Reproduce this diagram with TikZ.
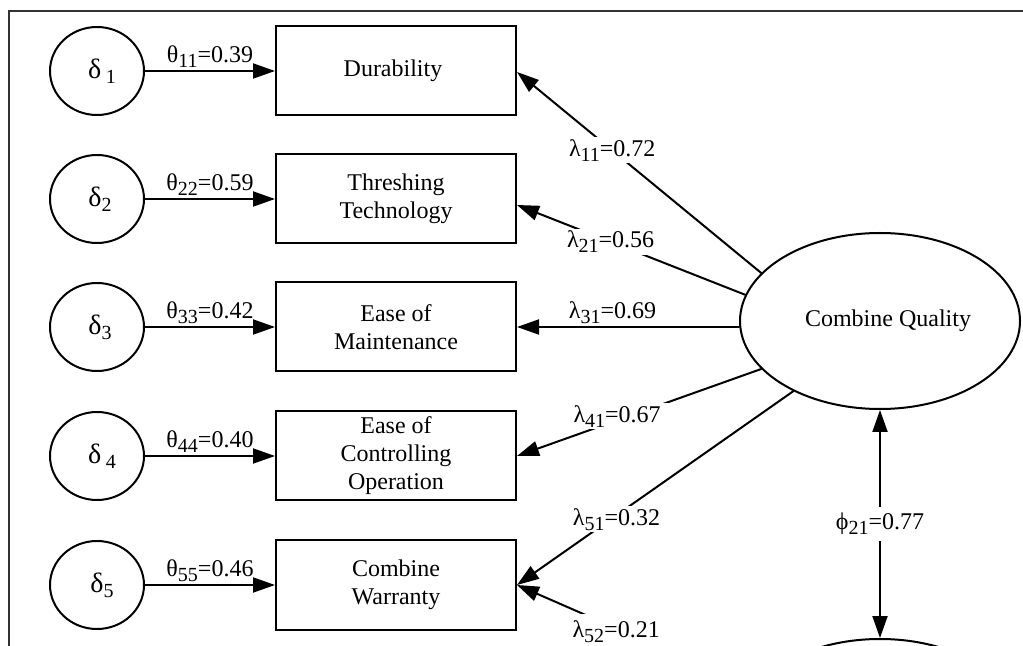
\documentclass[tikz,border=0pt]{standalone}
\usepackage{fontspec}
\setmainfont{Liberation Serif}
\usetikzlibrary{shapes.geometric,arrows.meta}
\newcommand{\lowsub}[1]{\raisebox{-2.5pt}{\fontsize{10}{10}\selectfont #1}}

\begin{document}
\begin{tikzpicture}[x=0.5pt, y=-0.5pt, font=\fontsize{12}{14}\selectfont]
  \tikzstyle{myline}=[line width=1pt, line cap=round];
  \tikzstyle{errnode}=[draw, myline, ellipse, minimum width=47pt, minimum height=44pt, inner sep=0pt, font=\fontsize{14}{16}\selectfont];
  \tikzstyle{obsnode}=[draw, myline, rectangle, minimum width=120pt, minimum height=44.5pt, inner sep=1pt, align=center];
  \tikzstyle{latnode}=[draw, myline, ellipse, minimum width=140pt, minimum height=88pt, inner sep=0pt];
  \tikzstyle{mylabel}=[fill=white, inner sep=1pt];
  \tikzstyle{myconn}=[myline, -{Triangle[length=11pt, width=7.5pt]}];
  \tikzstyle{mydconn}=[myline, {Triangle[length=11pt, width=7.5pt]}-{Triangle[length=11pt, width=7.5pt]}];
  %
  \useasboundingbox (0, 0) rectangle (1023, 646);
  \clip (0, 0) rectangle (1023, 646);
  % frame
  \draw[myline, black!80] (1023, 11) -- (9, 11) -- (9, 646);
  %
  % error terms
  \node[errnode] (d1) at (97, 71) { \hspace{5pt}δ\,\lowsub{1} };
  \node[errnode] (d2) at (97, 199) { \hspace{3pt}δ\lowsub{2} };
  \node[errnode] (d3) at (97, 327) { \hspace{3pt}δ\lowsub{3} };
  \node[errnode] (d4) at (97, 456) { \hspace{5pt}δ\,\lowsub{4} };
  \node[errnode] (d5) at (97, 585) { \hspace{5pt}δ\lowsub{5} };
  %
  % observed variables
  \node[obsnode] (dur) at (396, 71) { Durability };
  \node[obsnode] (thr) at (396, 199) { Threshing\\Technology };
  \node[obsnode] (mnt) at (396, 327) { Ease of\\Maintenance };
  \node[obsnode] (ctl) at (396, 456) { Ease of\\Controlling\\Operation };
  \node[obsnode] (war) at (396, 585) { Combine\\Warranty };
  %
  % latent factors
  \node[latnode] (cq) at (880, 321) { \hspace{8pt}Combine Quality };
  \node[latnode] (cp) at (880, 727) {};
  %
  % error variances
  \draw[myconn] (d1) -- node[above, inner sep=1pt] (t11) { θ\lowsub{11}=0.39 } (dur);
  \draw[myconn] (d2) -- node[above, inner sep=1pt] (t22) { θ\lowsub{22}=0.59 } (thr);
  \draw[myconn] (d3) -- node[above, inner sep=1pt] (t33) { θ\lowsub{33}=0.42 } (mnt);
  \draw[myconn] (d4) -- node[above, inner sep=1pt] (t44) { θ\lowsub{44}=0.40 } (ctl);
  \draw[myconn] (d5) -- node[above, inner sep=1pt] (t55) { θ\lowsub{55}=0.46 } (war);
  %
  % loadings
  \draw[myconn] (cq.158) -- node[mylabel, pos=0.61] (l11) { λ\lowsub{11}=0.72 } ([yshift=-0.5pt]dur.east);
  \draw[myconn] (cq.169) -- node[mylabel, pos=0.59] (l21) { λ\lowsub{21}=0.56 } ([yshift=-3pt]thr.east);
  \draw[myconn] (cq.west |- mnt.east) -- node[above, inner sep=1pt, pos=0.57] (l31) { λ\lowsub{31}=0.69 } (mnt.east);
  \draw[myconn] (cq.202) -- node[mylabel, inner xsep=6pt, pos=0.59, yshift=2pt] (l41) { λ\lowsub{41}=0.67 } (ctl.east);
  \draw[myconn] (cq.219) -- node[mylabel, pos=0.64, yshift=-2pt] (l51) { λ\lowsub{51}=0.32 } (war.east);
  \draw[myconn] (cp.163) -- node[mylabel, inner xsep=1pt, inner ysep=3pt, pos=0.58, yshift=-1.5pt] (l52) { λ\lowsub{52}=0.21 } (war.east);
  %
  % factor correlation
  \draw[mydconn] (cq.south) -- node[mylabel, inner sep=3pt] (p21) { ϕ\lowsub{21}=0.77 } (cp.north);
\end{tikzpicture}
\end{document}
